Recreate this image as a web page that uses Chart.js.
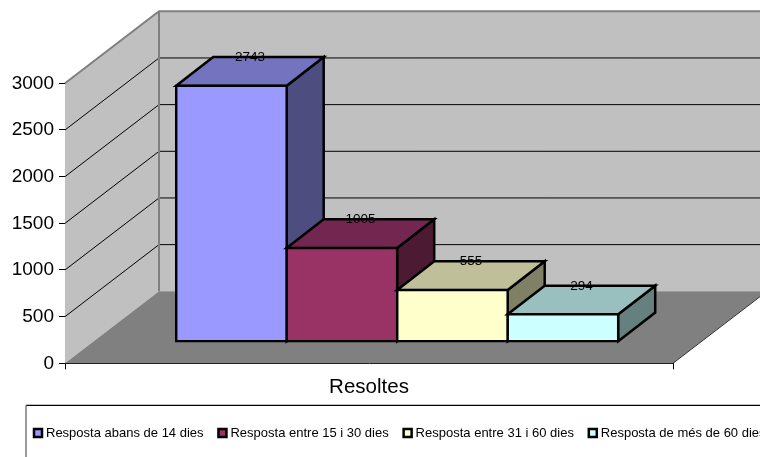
<!DOCTYPE html>
<html><head><meta charset="utf-8">
<style>html,body{margin:0;padding:0;background:#fff;overflow:hidden;width:760px;height:457px}canvas{display:block}</style>
<script src="https://cdn.jsdelivr.net/npm/chart.js@4"></script>
</head><body><canvas id="c" width="800" height="457"></canvas>
<script>
const categories = ['Resoltes'];
const seriesNames = ['Resposta abans de 14 dies','Resposta entre 15 i 30 dies','Resposta entre 31 i 60 dies','Resposta de més de 60 dies'];
const seriesValues = [2743, 1005, 555, 294];
const frontColors = ['#9999FF','#993366','#FFFFCC','#CCFFFF'];
const topColors = ['#7373BF','#732650','#BFBF99','#99BFBF'];
const sideColors = ['#4D4D80','#4D1A33','#808066','#668080'];
const yTicks = [0,500,1000,1500,2000,2500,3000];
const FONT = "'Liberation Sans', Arial, sans-serif";

const WALL = {dx: 94, dy: -72};
const PLANE = {dx: 28.2, dy: -21.6};
const BAR = {dx: 37, dy: -28.6};

function poly(ctx, pts){ctx.beginPath();pts.forEach((p,i)=>i?ctx.lineTo(p[0],p[1]):ctx.moveTo(p[0],p[1]));ctx.closePath();}

const scene = {
  id:'scene',
  afterLayout(chart){ chart.scales.y.left = 0; },
  beforeDraw(chart){
    const ctx=chart.ctx;
    ctx.save();
    ctx.strokeStyle='#000';ctx.lineWidth=1.3;
    ctx.beginPath();ctx.moveTo(26,405.3);ctx.lineTo(800,405.3);ctx.stroke();
    ctx.strokeStyle='#808080';ctx.lineWidth=1.6;
    ctx.beginPath();ctx.moveTo(26,405.3);ctx.lineTo(26,457);ctx.stroke();
    ctx.restore();
  },
  beforeDatasetsDraw(chart){
    const ctx=chart.ctx, y=chart.scales.y, x=chart.scales.x;
    const L=x.left, R=x.right, B=y.getPixelForValue(0), T=y.getPixelForValue(3000);
    const d=WALL;
    ctx.save();
    poly(ctx,[[L+d.dx,T+d.dy],[R+d.dx,T+d.dy],[R+d.dx,B+d.dy],[L+d.dx,B+d.dy]]);ctx.fillStyle='#C0C0C0';ctx.fill();
    poly(ctx,[[L,T],[L+d.dx,T+d.dy],[L+d.dx,B+d.dy],[L,B]]);ctx.fillStyle='#C0C0C0';ctx.fill();
    poly(ctx,[[L,B],[R,B],[R+d.dx,B+d.dy],[L+d.dx,B+d.dy]]);ctx.fillStyle='#808080';ctx.fill();
    ctx.strokeStyle='#000';ctx.lineWidth=1;
    yTicks.filter(v=>v>0&&v<3000).forEach(v=>{
      const p=y.getPixelForValue(v);
      ctx.beginPath();ctx.moveTo(L,p);ctx.lineTo(L+d.dx,p+d.dy);ctx.lineTo(R+d.dx,p+d.dy);ctx.stroke();
    });
    ctx.strokeStyle='#808080';ctx.lineWidth=2;
    ctx.beginPath();ctx.moveTo(L,T);ctx.lineTo(L+d.dx,T+d.dy);ctx.lineTo(R+d.dx,T+d.dy);
    ctx.moveTo(L+d.dx,T+d.dy);ctx.lineTo(L+d.dx,B+d.dy);ctx.stroke();
    ctx.strokeStyle='#333';ctx.lineWidth=1;
    ctx.beginPath();ctx.moveTo(R,B);ctx.lineTo(R+d.dx,B+d.dy);ctx.stroke();
    ctx.restore();
  },
  // The library paints datasets last-to-first; the 3D stack needs first-to-last.
  beforeDatasetDraw(){ return false; },
  afterDatasetsDraw(chart){
    const ctx=chart.ctx;
    const metas=chart.getSortedVisibleDatasetMetas().slice().sort((a,b)=>a.index-b.index);
    metas.forEach(m=>{
      const el=m.data[0], i=m.index, w=BAR;
      const l=el.x-el.width/2, r=el.x+el.width/2, t=el.y, b=el.base;
      ctx.save();
      ctx.translate(PLANE.dx,PLANE.dy);
      ctx.strokeStyle='#000';ctx.lineWidth=2.5;ctx.lineJoin='miter';
      poly(ctx,[[r,t],[r+w.dx,t+w.dy],[r+w.dx,b+w.dy],[r,b]]);ctx.fillStyle=sideColors[i];ctx.fill();ctx.stroke();
      poly(ctx,[[l,t],[l+w.dx,t+w.dy],[r+w.dx,t+w.dy],[r,t]]);ctx.fillStyle=topColors[i];ctx.fill();ctx.stroke();
      m.controller.draw();
      ctx.restore();
    });
    ctx.save();
    ctx.fillStyle='#000';ctx.font='13.5px '+FONT;ctx.textAlign='center';ctx.textBaseline='middle';
    metas.forEach(m=>{
      const el=m.data[0];
      ctx.fillText(String(seriesValues[m.index]),el.x+PLANE.dx+BAR.dx/2,el.y+PLANE.dy+BAR.dy+0.3);
    });
    ctx.restore();
  }
};

const datasets = seriesNames.map((n,i)=>({
  label:n,data:[seriesValues[i]],backgroundColor:frontColors[i],borderColor:'#000',borderWidth:2.5,
  borderSkipped:false,inflateAmount:1.25,clip:false,pointStyle:'rect',
  categoryPercentage:0.727,barPercentage:1
}));

new Chart(document.getElementById('c'),{
  type:'bar',
  data:{labels:categories,datasets},
  plugins:[scene],
  options:{
    responsive:false,animation:false,devicePixelRatio:1,
    layout:{autoPadding:false,padding:{left:19.1,top:83.3,right:0,bottom:7.5}},
    scales:{
      x:{offset:true,
        grid:{offset:true,drawOnChartArea:false,tickLength:6,color:'#000'},
        border:{color:'#000',width:1},
        ticks:{color:'#000',font:{family:FONT,size:20.5},padding:6,maxRotation:0},
        afterFit(s){s.height=45.8;}},
      y:{min:0,max:3000,
        grid:{drawOnChartArea:false,tickLength:6,color:'#000'},
        border:{color:'#000',width:1},
        ticks:{stepSize:500,color:'#000',font:{family:FONT,size:19},padding:5,callback:v=>String(v)},
        afterFit(s){s.width=45.9;}},
      spacer:{position:'right',axis:'y',
        grid:{display:false},border:{display:false},ticks:{display:false},
        afterFit(s){s.width=127;}}
    },
    plugins:{
      tooltip:{enabled:false},
      legend:{position:'bottom',align:'start',
        labels:{usePointStyle:true,boxWidth:3,boxHeight:8,padding:17.4,color:'#000',font:{family:FONT,size:13}}}
    }
  }
});
</script></body></html>
